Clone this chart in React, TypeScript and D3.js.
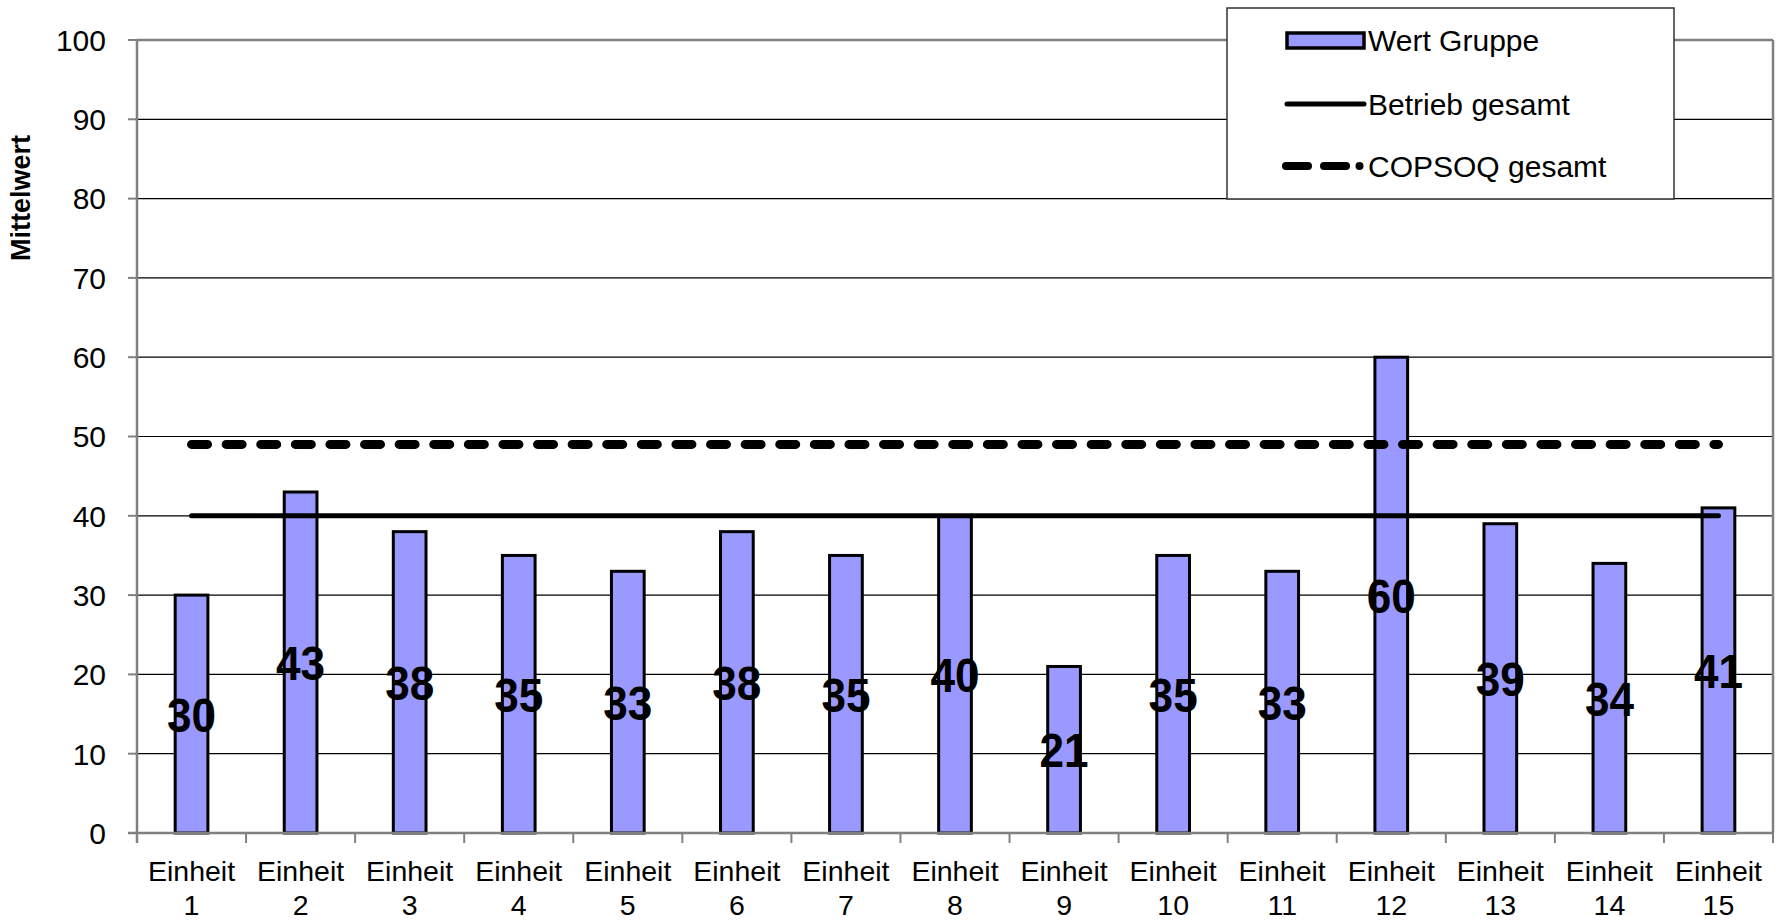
import React from "react";
import * as d3 from "d3";

const categories = [
  "Einheit 1", "Einheit 2", "Einheit 3", "Einheit 4", "Einheit 5",
  "Einheit 6", "Einheit 7", "Einheit 8", "Einheit 9", "Einheit 10",
  "Einheit 11", "Einheit 12", "Einheit 13", "Einheit 14", "Einheit 15",
];
const groupValues = [30, 43, 38, 35, 33, 38, 35, 40, 21, 35, 33, 60, 39, 34, 41];
const betriebGesamt = [40, 40, 40, 40, 40, 40, 40, 40, 40, 40, 40, 40, 40, 40, 40];
const copsoqGesamt = [49, 49, 49, 49, 49, 49, 49, 49, 49, 49, 49, 49, 49, 49, 49];
const yTicks = [0, 10, 20, 30, 40, 50, 60, 70, 80, 90, 100];
const legendLabels = ["Wert Gruppe", "Betrieb gesamt", "COPSOQ gesamt"];
const yAxisTitle = "Mittelwert";

const W = 1786;
const H = 921;
const FONT = "'Liberation Sans', Arial, Helvetica, sans-serif";

export default function App() {
  const left = 137, right = 1773, top = 40, bottom = 833;
  const x = d3.scaleBand<string>().domain(categories).range([left, right]).padding(0);
  const y = d3.scaleLinear().domain([0, 100]).range([bottom, top]);
  const bw = x.bandwidth() * 0.3;
  const cx = (c: string) => (x(c) as number) + x.bandwidth() / 2;

  const line = d3
    .line<number>()
    .x((_, i) => cx(categories[i]))
    .y((d) => y(d));

  const grid = "#000";
  const axisGray = "#808080";

  const lg = { x: 1227, y: 8, w: 447, h: 191 };
  const symX0 = 1287, symX1 = 1364, textX = 1368;
  const rowY = [40, 104, 166];

  return (
    <svg
      width={W}
      height={H}
      style={{ position: "absolute", left: 0, top: 0, background: "#fff" }}
      fontFamily={FONT}
    >
      <rect x={0} y={0} width={W} height={H} fill="#fff" />
      {/* gridlines */}
      {yTicks.filter((t) => t > 0 && t < 100).map((t) => (
        <line key={"g" + t} x1={left} x2={right} y1={y(t)} y2={y(t)} stroke={grid} strokeWidth={1.2} />
      ))}
      {/* plot border top & right */}
      <line x1={left} x2={right} y1={y(100)} y2={y(100)} stroke={axisGray} strokeWidth={2.5} />
      <line x1={right} x2={right} y1={y(100)} y2={y(0)} stroke={axisGray} strokeWidth={2.5} />
      {/* y ticks & labels */}
      {yTicks.map((t) => (
        <g key={"y" + t}>
          <line x1={left - 9} x2={left} y1={y(t)} y2={y(t)} stroke={axisGray} strokeWidth={2} />
          <text x={106} y={y(t)} dy="0.36em" textAnchor="end" fontSize={30} fill="#000">
            {t}
          </text>
        </g>
      ))}
      {/* bars */}
      {groupValues.map((v, i) => (
        <rect
          key={"b" + i}
          x={cx(categories[i]) - bw / 2}
          y={y(v)}
          width={bw}
          height={y(0) - y(v)}
          fill="#9999FF"
          stroke="#000"
          strokeWidth={3}
        />
      ))}
      {/* axes */}
      <line x1={left} x2={left} y1={y(100)} y2={y(0) + 10} stroke={axisGray} strokeWidth={2.5} />
      <line x1={left - 9} x2={right} y1={y(0)} y2={y(0)} stroke={axisGray} strokeWidth={2.5} />
      {categories.map((c, i) => (
        <line
          key={"xt" + i}
          x1={(x(c) as number) + x.bandwidth()}
          x2={(x(c) as number) + x.bandwidth()}
          y1={y(0)}
          y2={y(0) + 10}
          stroke={axisGray}
          strokeWidth={2}
        />
      ))}
      {/* x labels */}
      {categories.map((c, i) => {
        const parts = c.split(" ");
        return (
          <text key={"xl" + i} x={cx(c)} textAnchor="middle" fontSize={28.5} fill="#000">
            <tspan x={cx(c)} y={881}>{parts[0]}</tspan>
            <tspan x={cx(c)} y={915}>{parts[1]}</tspan>
          </text>
        );
      })}
      {/* lines */}
      <path d={line(betriebGesamt) || ""} fill="none" stroke="#000" strokeWidth={5} strokeLinecap="round" />
      <path
        d={line(copsoqGesamt) || ""}
        fill="none"
        stroke="#000"
        strokeWidth={9}
        strokeLinecap="round"
        strokeDasharray="16 18.6"
      />
      {/* data labels */}
      {groupValues.map((v, i) => {
        const px = cx(categories[i]);
        const py = (y(v) + y(0)) / 2;
        return (
          <text
            key={"dl" + i}
            transform={`translate(${px},${py}) scale(0.9,1)`}
            textAnchor="middle"
            dy="0.36em"
            fontSize={49}
            fontWeight="bold"
            fill="#000"
          >
            {v}
          </text>
        );
      })}
      {/* y axis title */}
      <text
        transform={`translate(30,198) rotate(-90)`}
        textAnchor="middle"
        fontSize={27}
        fontWeight="bold"
        fill="#000"
      >
        {yAxisTitle}
      </text>
      {/* legend */}
      <rect x={lg.x} y={lg.y} width={lg.w} height={lg.h} fill="#fff" stroke="#333" strokeWidth={1.5} />
      <rect x={symX0} y={rowY[0] - 7} width={symX1 - symX0} height={15} fill="#9999FF" stroke="#000" strokeWidth={3.5} />
      <line x1={symX0} x2={symX1} y1={rowY[1]} y2={rowY[1]} stroke="#000" strokeWidth={5} strokeLinecap="round" />
      <line x1={1286} x2={1308} y1={rowY[2]} y2={rowY[2]} stroke="#000" strokeWidth={8} strokeLinecap="round" />
      <line x1={1324} x2={1346} y1={rowY[2]} y2={rowY[2]} stroke="#000" strokeWidth={8} strokeLinecap="round" />
      <circle cx={1359.5} cy={rowY[2]} r={4} fill="#000" />
      {legendLabels.map((l, i) => (
        <text key={"lg" + i} x={textX} y={rowY[i]} dy="0.36em" fontSize={30} fill="#000">
          {l}
        </text>
      ))}
    </svg>
  );
}
